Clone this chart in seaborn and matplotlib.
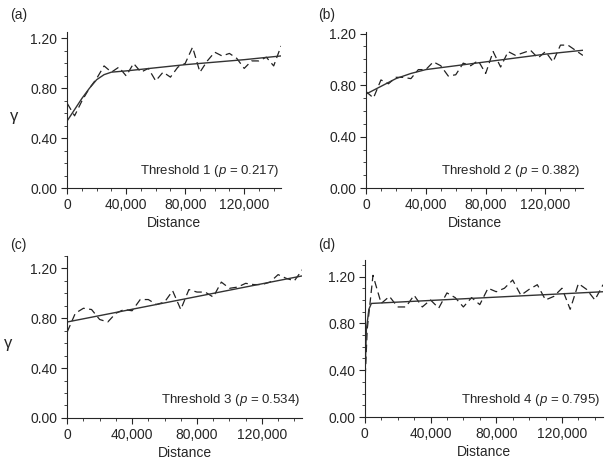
import numpy as np
import pandas as pd
import seaborn as sns
import matplotlib.pyplot as plt
from matplotlib.ticker import FuncFormatter, MultipleLocator

# lag distances of the empirical variograms (every 5,000)
lags = [0, 5000, 10000, 15000, 20000, 25000, 30000, 35000, 40000, 45000,
        50000, 55000, 60000, 65000, 70000, 75000, 80000, 85000, 90000, 95000,
        100000, 105000, 110000, 115000, 120000, 125000, 130000, 135000, 140000, 145000]

emp_1 = [0.68, 0.58, 0.70, 0.80, 0.88, 0.98, 0.93, 0.97, 0.90, 1.00,
         0.93, 0.96, 0.86, 0.93, 0.89, 0.97, 1.00, 1.13, 0.93, 1.02,
         1.09, 1.06, 1.08, 1.04, 0.96, 1.02, 1.02, 1.05, 0.98, 1.14]
emp_2 = [0.75, 0.70, 0.84, 0.81, 0.86, 0.86, 0.85, 0.92, 0.92, 0.98,
         0.95, 0.87, 0.88, 0.97, 0.95, 0.99, 0.89, 1.06, 0.94, 1.06,
         1.03, 1.05, 1.07, 1.01, 1.06, 0.98, 1.11, 1.11, 1.07, 1.03]
emp_3 = [0.69, 0.84, 0.88, 0.87, 0.79, 0.77, 0.84, 0.87, 0.86, 0.95,
         0.95, 0.91, 0.93, 1.02, 0.87, 1.03, 1.01, 1.01, 0.97, 1.09,
         1.04, 1.05, 1.08, 1.07, 1.07, 1.09, 1.15, 1.12, 1.10, 1.19]
# threshold 4 has an extra short lag near zero
lags_4 = [0, 1500, 5000, 10000, 15000, 20000, 25000, 30000, 35000, 40000, 45000,
          50000, 55000, 60000, 65000, 70000, 75000, 80000, 85000, 90000, 95000,
          100000, 105000, 110000, 115000, 120000, 125000, 130000, 135000, 140000, 145000]
emp_4 = [0.25, 0.75, 1.21, 0.97, 1.03, 0.94, 0.94, 1.04, 0.94, 1.00, 0.93,
         1.06, 1.02, 0.94, 1.02, 0.96, 1.10, 1.07, 1.10, 1.17, 1.04,
         1.09, 1.13, 1.00, 1.03, 1.10, 0.92, 1.14, 1.09, 1.00, 1.13]

# fitted models
fit_x1 = [0, 5000, 10000, 15000, 20000, 25000, 30000, 40000, 80000, 120000, 145000]
fit_y1 = [0.54, 0.63, 0.72, 0.80, 0.87, 0.91, 0.93, 0.94, 0.99, 1.03, 1.06]
fit_x2 = [0, 10000, 20000, 30000, 40000, 60000, 80000, 100000, 120000, 145000]
fit_y2 = [0.73, 0.79, 0.85, 0.89, 0.92, 0.95, 0.98, 1.01, 1.04, 1.07]
fit_x3 = [0, 145000]
fit_y3 = [0.77, 1.14]
fit_x4 = [0, 1000, 2500, 4000, 145000]
fit_y4 = [0.28, 0.75, 0.92, 0.97, 1.07]

labels = ["(a)", "(b)", "(c)", "(d)"]
thresholds = ["1", "2", "3", "4"]
p_values = ["0.217", "0.382", "0.534", "0.795"]

sns.set_style("ticks")
plt.rcParams['font.family'] = ['Liberation Sans', 'DejaVu Sans']
plt.rcParams['mathtext.fontset'] = 'custom'
plt.rcParams['mathtext.it'] = 'Liberation Sans:italic'
plt.rcParams['mathtext.rm'] = 'Liberation Sans'

fig = plt.figure(figsize=(6.11, 4.67), dpi=100)
boxes = [[0.110, 0.597, 0.350, 0.334],
         [0.599, 0.597, 0.355, 0.334],
         [0.110, 0.105, 0.385, 0.347],
         [0.597, 0.107, 0.390, 0.336]]
label_pos = [(0.016, 0.968), (0.520, 0.968), (0.016, 0.475), (0.520, 0.475)]
ytops = [1.25, 1.21, 1.30, 1.34]
emps = [(lags, emp_1), (lags, emp_2), (lags, emp_3), (lags_4, emp_4)]
fits = [(fit_x1, fit_y1), (fit_x2, fit_y2), (fit_x3, fit_y3), (fit_x4, fit_y4)]

for i in range(4):
    ax = fig.add_axes(boxes[i])
    ex, ey = emps[i]
    fx, fy = fits[i]
    sns.lineplot(x=ex, y=ey, ax=ax, color='#222222', lw=0.9,
                 linestyle=(0, (6, 3.5)))
    sns.lineplot(x=fx, y=fy, ax=ax, color='#333333', lw=1.0)
    ax.set_xlim(0, 145000)
    ax.set_ylim(0, ytops[i])
    ax.set_xticks([0, 40000, 80000, 120000])
    ax.xaxis.set_minor_locator(MultipleLocator(10000))
    ax.set_yticks([0, 0.4, 0.8, 1.2])
    ax.yaxis.set_minor_locator(MultipleLocator(0.1))
    ax.xaxis.set_major_formatter(FuncFormatter(lambda v, pos: f"{int(v):,}"))
    ax.yaxis.set_major_formatter(FuncFormatter(lambda v, pos: f"{v:.2f}"))
    ax.tick_params(which='major', length=4, width=0.8, labelsize=10, pad=3)
    ax.tick_params(which='minor', length=2.5, width=0.6)
    sns.despine(ax=ax)
    ax.set_xlabel("Distance", fontsize=10, labelpad=3)
    if i in (0, 2):
        ax.set_ylabel("γ", fontsize=12, rotation=0, labelpad=12, va='center')
        ax.yaxis.set_label_coords(-0.25, 0.46)
    ax.text(0.99, 0.06, f"Threshold {thresholds[i]} ($p$ = {p_values[i]})",
            transform=ax.transAxes, ha='right', va='bottom', fontsize=9.5)
    fig.text(label_pos[i][0], label_pos[i][1], labels[i],
             fontsize=10, ha='left', va='center')

fig.savefig("out.png", dpi=100)
